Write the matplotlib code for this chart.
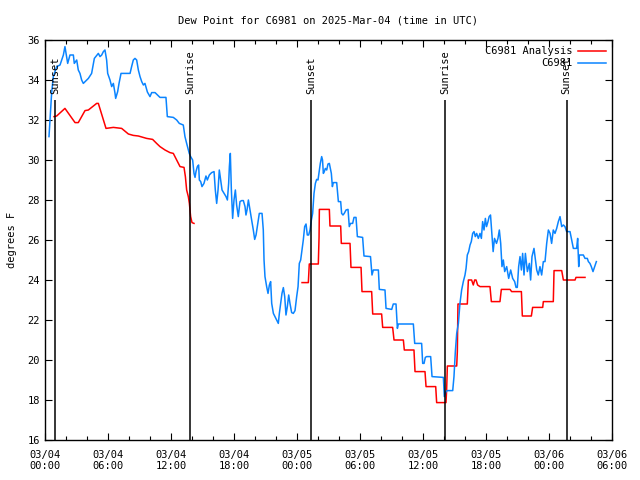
import numpy as np
import pandas as pd
import matplotlib
matplotlib.use("Agg")
import matplotlib.pyplot as plt
import matplotlib.dates as mdates

# hours since 2025-03-04 00:00 UTC, dew point in F
obs_hours = [0.38, 0.48, 0.63, 0.79, 1.11, 1.43, 1.75, 1.90, 2.06, 2.16, 2.38, 2.70, 2.79, 3.02, 3.17,
             3.33, 3.49, 3.65, 3.97, 4.13, 4.44, 4.70, 5.08, 5.24, 5.40, 5.56, 5.71, 5.87, 5.97, 6.19,
             6.35, 6.51, 6.67, 6.73, 6.92, 7.05, 7.24, 7.78, 8.10, 8.25, 8.41, 8.57, 8.73, 8.89, 9.05,
             9.21, 9.37, 9.52, 9.75, 10.0, 10.16, 10.48, 10.95, 11.52, 11.65, 12.22, 12.54, 12.79, 13.17,
             13.33, 13.49, 13.74, 13.87, 14.06, 14.19, 14.29, 14.38, 14.51, 14.63, 14.70, 14.83, 14.95,
             15.14, 15.33, 15.46, 15.65, 15.87, 16.1, 16.22, 16.35, 16.48, 16.6, 16.73, 16.86, 17.05,
             17.24, 17.37, 17.49, 17.56, 17.65, 17.75, 17.87, 18.0, 18.13, 18.25, 18.41, 18.57, 18.73,
             18.89, 19.05, 19.14, 19.24, 19.37, 19.52, 19.68, 19.84, 19.97, 20.1, 20.22, 20.41, 20.67,
             20.79, 20.86, 20.95, 21.11, 21.24, 21.37, 21.49, 21.59, 21.75, 21.9, 22.06, 22.22, 22.32,
             22.44, 22.57, 22.70, 22.83, 22.95, 23.08, 23.21, 23.33, 23.49, 23.65, 23.81, 23.97, 24.1,
             24.22, 24.35, 24.48, 24.6, 24.73, 24.86, 24.98, 25.11, 25.24, 25.37, 25.49, 25.62, 25.75,
             25.87, 26.0, 26.13, 26.22, 26.35, 26.43, 26.51, 26.6, 26.70, 26.83, 26.95, 27.08, 27.27,
             27.37, 27.46, 27.78, 27.94, 28.16, 28.25, 28.38, 28.5, 28.67, 28.86, 28.98, 29.1, 29.30,
             29.43, 29.62, 29.75, 30.25, 30.38, 31.0, 31.14, 31.27, 31.75, 31.84, 32.38, 32.48, 33.02,
             33.17, 33.43, 33.49, 33.56, 33.65, 35.08, 35.21, 35.87, 35.97, 36.1, 36.22, 36.35, 36.73,
             36.86, 37.94, 38.03, 38.19, 38.32, 38.83, 38.95, 39.08, 39.21, 39.37, 39.52, 39.68, 39.84,
             40.0, 40.1, 40.22, 40.35, 40.48, 40.6, 40.73, 40.86, 40.98, 41.11, 41.27, 41.43, 41.56,
             41.68, 41.81, 41.94, 42.05, 42.19, 42.3, 42.43, 42.56, 42.68, 42.81, 43.0, 43.14, 43.27,
             43.4, 43.52, 43.65, 43.78, 43.97, 44.16, 44.35, 44.54, 44.73, 44.86, 44.98, 45.11, 45.24,
             45.37, 45.49, 45.62, 45.75, 45.94, 46.13, 46.25, 46.38, 46.57, 46.83, 46.98, 47.14, 47.3,
             47.46, 47.62, 47.78, 47.94, 48.1, 48.25, 48.41, 48.57, 48.73, 48.89, 49.05, 49.21, 49.37,
             49.52, 49.68, 50.0, 50.16, 50.32, 50.63, 50.73, 50.83, 50.89, 51.27, 51.43, 51.65, 51.75,
             51.9, 52.03, 52.19, 52.35, 52.51]
obs_dewp = [31.17, 32.0, 33.33, 34.17, 34.67, 34.75, 35.25, 35.67, 35.17, 34.83, 35.25, 35.25, 34.83, 35.0, 34.5,
            34.33, 34.0, 33.83, 34.0, 34.08, 34.33, 35.08, 35.33, 35.17, 35.25, 35.42, 35.5, 35.0, 34.33, 34.0,
            33.67, 33.83, 33.33, 33.08, 33.42, 33.83, 34.33, 34.33, 34.33, 34.67, 35.0, 35.08, 35.0, 34.5, 34.17,
            33.92, 33.75, 33.83, 33.4, 33.17, 33.37, 33.37, 33.13, 33.13, 32.17, 32.13, 32.0, 31.83, 31.75,
            31.17, 30.83, 30.33, 30.17, 30.0, 29.33, 29.13, 29.42, 29.67, 29.75, 29.0, 28.92, 28.67,
            28.83, 29.2, 29.0, 29.25, 29.37, 29.42, 28.5, 27.83, 28.5, 29.5, 29.0, 28.5, 28.33,
            28.17, 28.0, 28.83, 29.67, 30.33, 28.5, 27.08, 28.0, 28.5, 27.75, 27.17, 27.92, 27.97,
            27.97, 27.67, 27.25, 27.5, 28.0, 27.5, 27.0, 26.5, 26.03, 26.25, 26.67, 27.33, 27.33,
            26.5, 25.0, 24.17, 23.67, 23.33, 23.75, 23.92, 22.83, 22.33, 22.17, 22.0, 21.83, 22.33,
            22.83, 23.33, 23.62, 23.17, 22.25, 22.67, 23.25, 22.83, 22.37, 22.33, 22.47, 23.17, 23.67,
            24.83, 25.0, 25.5, 26.0, 26.67, 26.8, 26.25, 26.25, 26.5, 27.0, 27.33, 28.33, 28.83,
            29.03, 29.0, 29.5, 29.83, 30.17, 30.0, 29.33, 29.42, 29.58, 29.5, 29.8, 29.83, 29.33,
            28.67, 28.87, 28.87, 27.92, 27.92, 27.33, 27.25, 27.33, 27.5, 27.53, 26.67, 26.83, 26.83,
            27.13, 27.13, 26.17, 26.13, 25.2, 25.17, 24.25, 24.5, 24.5, 23.53, 23.5, 22.58, 22.53,
            22.8, 22.8, 22.25, 21.58, 21.8, 21.8, 20.83, 20.83, 19.83, 19.83, 20.13, 20.17, 20.17,
            19.17, 19.13, 18.17, 18.42, 18.47, 18.47, 19.17, 20.42, 21.33, 21.83, 22.83, 23.5, 23.92,
            24.25, 24.58, 25.25, 25.42, 25.75, 25.92, 26.33, 26.42, 26.17, 26.33, 26.08, 26.33, 26.08,
            26.92, 26.5, 27.08, 26.67, 26.92, 27.17, 27.25, 26.33, 25.42, 26.08, 25.83, 26.08, 26.5,
            25.83, 24.67, 25.0, 24.42, 24.67, 24.08, 24.5, 24.08, 23.92, 23.63, 23.63, 24.67, 25.17,
            24.5, 25.33, 24.25, 25.33, 24.42, 24.83, 24.0, 25.17, 25.58, 24.5, 24.25, 24.67, 24.25,
            24.92, 24.92, 25.83, 26.5, 26.33, 25.83, 26.5, 26.33, 26.58, 26.92, 27.17, 26.67, 26.75,
            26.67, 26.42, 26.42, 26.0, 25.58, 25.58, 26.08, 24.67, 25.25, 25.25, 25.08, 25.08, 24.92,
            24.83, 24.67, 24.42, 24.67, 24.92]

# analysis (red), NaN marks the gap
ana_hours = [0.86, 1.11, 1.90, 2.86, 3.17, 3.81, 4.13, 4.92, 5.08, 5.81, 6.51, 7.30, 7.94, 8.41, 8.89,
             9.68, 10.25, 10.63, 10.95, 11.43, 11.90, 12.22, 12.54, 12.86, 13.24, 13.37, 13.49, 13.65,
             13.75, 13.87, 14.0, 14.19, 19.0,
             24.48, 25.08, 25.17, 26.03, 26.1, 26.13, 27.08, 27.14, 28.16, 28.22, 29.05, 29.14, 30.1,
             30.19, 31.11, 31.21, 32.06, 32.16, 33.11, 33.24, 34.13, 34.22, 35.14, 35.24, 36.19, 36.29,
             37.21, 37.3, 38.19, 38.25, 38.32, 39.21, 39.27, 39.33, 40.22, 40.32, 40.63, 40.79, 40.92,
             41.05, 41.2, 41.43, 42.38, 42.51, 43.33, 43.46, 44.29, 44.44, 45.37, 45.46, 46.32, 46.44,
             47.4, 47.46, 48.41, 48.48, 49.21, 49.37, 50.48, 50.57, 51.43]
ana_dewp = [32.17, 32.2, 32.58, 31.87, 31.87, 32.47, 32.5, 32.83, 32.83, 31.58, 31.63, 31.58, 31.3, 31.23, 31.2,
            31.08, 31.03, 30.83, 30.67, 30.5, 30.37, 30.33, 30.0, 29.67, 29.63, 29.17, 28.5, 28.17,
            27.83, 27.17, 26.87, 26.83, np.nan,
            23.87, 23.87, 24.8, 24.8, 26.13, 27.53, 27.53, 26.7, 26.7, 25.83, 25.83, 24.63, 24.63,
            23.42, 23.42, 22.3, 22.3, 21.63, 21.63, 21.0, 21.0, 20.5, 20.5, 19.42, 19.42, 18.67,
            18.67, 17.87, 17.87, 18.5, 19.7, 19.7, 20.42, 22.8, 22.8, 24.0, 24.0, 23.75, 24.0,
            24.0, 23.75, 23.67, 23.67, 22.92, 22.92, 23.53, 23.53, 23.42, 23.42, 22.2, 22.2, 22.63,
            22.63, 22.92, 22.92, 24.47, 24.47, 24.0, 24.0, 24.13, 24.13]

sun_hours = [0.95, 13.81, 25.36, 38.12, 49.68]
sun_labels = ["Sunset", "Sunrise", "Sunset", "Sunrise", "Sunset"]

base = pd.Timestamp("2025-03-04 00:00")
obs_t = base + pd.to_timedelta(obs_hours, unit="h")
ana_t = base + pd.to_timedelta(ana_hours, unit="h")
sun_t = base + pd.to_timedelta(sun_hours, unit="h")

plt.rcParams['font.family'] = ['DejaVu Sans Mono']
plt.rcParams['font.size'] = 7

fig = plt.figure(figsize=(6.4, 4.8), dpi=100)
ax = fig.add_axes([45/640, 40/480, 567/640, 400/480])

ax.plot(ana_t, ana_dewp, color='#ff0000', lw=1.1, label='C6981 Analysis')
ax.plot(obs_t, obs_dewp, color='#0a84ff', lw=1.1, label='C6981')

for t, lab in zip(sun_t, sun_labels):
    ax.vlines(t, 16, 33.0, color='black', lw=1.1)
    ax.text(t, 33.3, lab, rotation=90, ha='center', va='bottom', fontsize=7.5)

ax.set_xlim(base, base + pd.Timedelta(hours=54))
ax.set_ylim(16, 36)
ax.set_yticks(np.arange(16, 37, 2))
ax.xaxis.set_major_locator(mdates.HourLocator(byhour=range(0, 24, 6)))
ax.xaxis.set_minor_locator(mdates.HourLocator(byhour=range(0, 24, 2)))
ax.xaxis.set_major_formatter(mdates.DateFormatter('%m/%d\n%H:%M'))
ax.tick_params(which='both', direction='in', top=True, right=True, labelsize=7.5)
ax.tick_params(which='major', length=5, width=0.8)
ax.tick_params(which='minor', length=3, width=0.8)
ax.tick_params(axis='x', pad=7)
for s in ax.spines.values():
    s.set_linewidth(1.0)

ax.set_ylabel('degrees F', fontsize=7.5, labelpad=8)
ax.set_title('Dew Point for C6981 on 2025-Mar-04 (time in UTC)', fontsize=7.5, pad=12)

leg = ax.legend(loc='upper right', frameon=False, markerfirst=False, fontsize=7.5,
                handlelength=2.7, labelspacing=0.2, borderaxespad=0.2, handletextpad=0.5)

fig.savefig('out.png', dpi=100)
